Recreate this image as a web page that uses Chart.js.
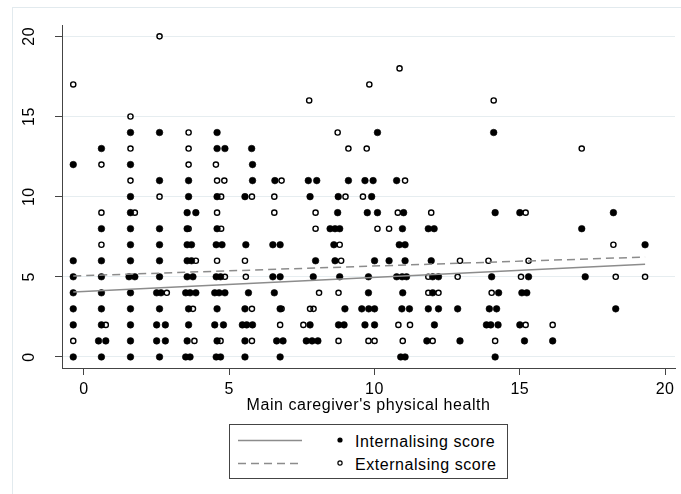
<!DOCTYPE html>
<html>
<head>
<meta charset="utf-8">
<script src="https://cdn.jsdelivr.net/npm/chart.js@4/dist/chart.umd.min.js"></script>
<style>
html,body{margin:0;padding:0;background:#fff;}
#wrap{position:relative;width:681px;height:494px;overflow:hidden;background:#fff;}
#frame{position:absolute;left:12px;top:7px;width:720px;height:520px;border-left:1px solid #e2eaee;border-top:1px solid #e2eaee;}
#c{position:absolute;left:0;top:0;}
#legend{position:absolute;left:0;top:0;}
</style>
</head>
<body>
<div id="wrap">
  <div id="frame"></div>
  <canvas id="c" width="681" height="494"></canvas>
  <svg id="legend" width="681" height="494" xmlns="http://www.w3.org/2000/svg"></svg>
</div>
<script>
// ---------- data ----------
const xTitle = "Main caregiver's physical health";
const seriesNames = ["Internalising score", "Externalsing score"];
const xTicks = [0, 5, 10, 15, 20];
const yTicks = [0, 5, 10, 15, 20];

// Internalising score (filled markers)
const intX = [
  -0.37,-0.37,-0.37,-0.37,-0.37,-0.37,-0.37,
  0.6,0.6,0.6,0.6,0.6,0.6,0.6,0.5,0.75,0.6,
  1.6,1.6,1.6,1.6,1.6,1.6,1.6,1.55,1.75,1.6,1.6,1.6,1.6,1.6,
  2.6,2.6,2.6,2.6,2.6,2.6,2.5,2.65,2.6,2.5,2.8,2.5,2.8,2.6,
  3.6,3.6,3.55,3.85,3.55,3.55,3.7,3.55,3.7,3.55,3.75,3.5,3.65,3.85,3.6,3.6,3.55,3.5,3.65,
  4.58,4.58,4.85,4.58,4.58,4.55,4.75,4.55,4.7,4.5,4.65,4.85,4.58,4.5,4.8,4.58,4.55,4.7,
  5.77,5.8,5.8,5.54,5.57,5.66,5.54,5.45,5.6,5.8,5.54,5.54,
  6.57,6.5,6.75,6.5,6.75,6.55,6.75,6.63,6.85,6.75,
  7.72,8.01,7.78,7.97,7.89,7.78,7.65,7.85,8.05,
  9.1,8.75,8.73,8.47,8.64,8.8,8.6,8.64,8.8,8.98,8.76,8.95,
  10.1,9.67,9.95,9.9,9.75,10.1,10.0,9.79,9.79,9.56,9.8,10.0,9.67,10.0,
  10.76,11.0,10.96,10.85,11.05,10.5,11.05,10.76,10.95,11.1,10.97,10.94,11.2,10.9,11.05,
  11.85,12.05,11.95,12.0,12.2,12.0,11.85,12.2,12.06,11.8,
  12.86,12.94,
  14.1,14.15,14.03,14.27,13.95,14.2,13.85,14.0,14.25,14.15,
  15.0,15.3,15.07,15.24,15.0,15.16,
  16.13,17.13,17.25,18.22,18.3,19.31
];
const intY = [
  12,6,5,4,3,2,0,
  13,8,6,5,4,3,2,1,1,0,
  14,12,10,9,8,7,6,5,5,4,3,2,1,0,
  14,11,8,7,6,5,4,4,3,2,2,1,1,0,
  11,10,9,9,8,7,7,6,6,5,5,4,4,4,3,2,1,0,0,
  14,13,13,10,8,7,7,5,5,4,4,4,3,2,2,1,0,0,
  13,12,11,10,7,4,3,2,2,2,1,0,
  11,7,7,5,5,4,3,1,1,0,
  11,11,10,6,5,2,1,1,1,
  11,10,9,8,8,8,7,6,5,3,2,2,
  14,11,11,10,9,9,6,5,4,3,3,3,2,2,
  11,9,8,7,7,6,6,5,5,5,4,3,3,0,0,
  8,8,6,5,5,4,3,3,2,1,
  3,1,
  14,9,5,4,3,3,2,2,2,0,
  9,5,4,4,2,1,
  1,8,5,9,3,7
];

// Externalsing score (hollow markers)
const extX = [
  -0.37,-0.37,
  0.6,0.6,0.6,0.75,
  1.6,1.6,1.6,1.75,
  2.6,2.6,2.85,
  3.6,3.6,3.6,3.6,3.85,3.75,3.8,
  4.54,4.58,4.83,4.72,4.58,4.72,4.58,4.85,4.7,
  5.78,5.54,5.57,5.78,5.78,
  6.8,6.55,6.55,6.8,6.75,
  7.75,7.97,7.97,8.09,7.78,7.9,7.55,
  8.73,9.1,9.0,8.8,8.85,8.76,8.76,
  9.82,9.73,9.6,10.1,10.5,9.79,10.0,
  10.86,11.05,10.8,10.82,11.22,10.97,
  11.95,11.85,11.85,12.2,12.0,
  12.94,12.86,
  14.1,13.92,14.03,14.15,
  15.2,15.3,15.04,15.2,
  16.13,17.13,18.22,18.3,19.31
];
const extY = [
  17,1,
  12,9,7,2,
  15,13,11,9,
  20,10,4,
  14,13,12,8,6,3,1,
  12,11,11,10,9,8,6,5,1,
  10,6,5,3,1,
  11,10,9,3,2,
  16,9,8,4,3,3,2,
  14,13,10,7,6,4,1,
  17,13,10,8,8,1,1,
  18,11,9,2,2,1,
  9,5,4,4,1,
  6,5,
  16,6,4,1,
  9,6,5,2,
  2,13,7,5,5
];

// fitted lines (end points)
const fitX = [-0.37, 19.31];
const fitInt = [4.05, 5.78];
const fitExt = [5.05, 6.23];

// ---------- chart ----------
const toPts = (xs, ys) => xs.map((x, i) => ({x: x, y: ys[i]}));
const FONT = "'Liberation Sans', Arial, Helvetica, sans-serif";
Chart.defaults.font.family = FONT;
Chart.defaults.color = '#000';

const spacing = {
  id: 'spacing',
  beforeLayout(chart) { try { chart.ctx.letterSpacing = '0.55px'; } catch (e) {} },
  beforeDraw(chart) { try { chart.ctx.letterSpacing = '0.55px'; } catch (e) {} }
};

new Chart(document.getElementById('c'), {
  type: 'scatter',
  data: {
    datasets: [
      {label: 'fit1', data: toPts(fitX, fitInt), showLine: true, borderColor: '#8c8c8c', borderWidth: 1.5, pointRadius: 0, order: 1},
      {label: 'fit2', data: toPts(fitX, fitExt), showLine: true, borderColor: '#8c8c8c', borderWidth: 1.5, borderDash: [8, 5], pointRadius: 0, order: 1},
      {label: seriesNames[0], data: toPts(intX, intY), pointRadius: 3.3, pointBackgroundColor: '#000', pointBorderColor: '#000', pointBorderWidth: 0.6, order: 3},
      {label: seriesNames[1], data: toPts(extX, extY), pointRadius: 2.6, pointBackgroundColor: 'rgba(0,0,0,0)', pointBorderColor: '#000', pointBorderWidth: 1.4, order: 2}
    ]
  },
  options: {
    responsive: false,
    animation: false,
    events: [],
    layout: {padding: {top: 25, right: 6, left: 0, bottom: 0}},
    plugins: {legend: {display: false}, tooltip: {enabled: false}},
    scales: {
      x: {
        type: 'linear', min: -0.757, max: 20.34,
        afterBuildTicks: s => { s.ticks = xTicks.map(v => ({value: v})); },
        afterFit: s => { s.height = 126; },
        grid: {display: true, drawOnChartArea: false, drawTicks: true, tickLength: 7, tickColor: '#444', color: '#444'},
        border: {display: true, color: '#444', width: 1},
        ticks: {padding: 5, color: '#000', font: {size: 16}, minRotation: 0, maxRotation: 0, autoSkip: false},
        title: {display: true, text: xTitle, color: '#000', font: {size: 16}, padding: {top: 0, bottom: 79}}
      },
      y: {
        type: 'linear', min: -0.69, max: 20.67,
        afterBuildTicks: s => { s.ticks = yTicks.map(v => ({value: v})); },
        afterFit: s => { s.width = 62; },
        grid: {display: true, color: '#e6edf0', tickColor: '#444', tickLength: 7, lineWidth: 1},
        border: {display: true, color: '#444', width: 1},
        ticks: {padding: 16, color: '#000', font: {size: 16}, minRotation: 90, maxRotation: 90, crossAlign: 'center', autoSkip: false}
      }
    }
  },
  plugins: [spacing]
});

// ---------- legend (SVG, real text) ----------
(function () {
  const svg = document.getElementById('legend');
  const NS = 'http://www.w3.org/2000/svg';
  const mk = (tag, attrs, txt) => {
    const el = document.createElementNS(NS, tag);
    for (const k in attrs) el.setAttribute(k, attrs[k]);
    if (txt) el.textContent = txt;
    svg.appendChild(el);
    return el;
  };
  mk('rect', {x: 229.5, y: 424.5, width: 278, height: 54, fill: '#fff', stroke: '#444', 'stroke-width': 1});
  const rows = [440.5, 463.5];
  mk('line', {x1: 238, y1: rows[0], x2: 302, y2: rows[0], stroke: '#8c8c8c', 'stroke-width': 1.5});
  mk('line', {x1: 238, y1: rows[1], x2: 302, y2: rows[1], stroke: '#8c8c8c', 'stroke-width': 1.5, 'stroke-dasharray': '8 5'});
  mk('circle', {cx: 340, cy: rows[0] - 0.5, r: 2.6, fill: '#000'});
  mk('circle', {cx: 340, cy: rows[1] - 0.5, r: 2.1, fill: 'none', stroke: '#000', 'stroke-width': 1.2});
  seriesNames.forEach((name, i) => {
    mk('text', {x: 355, y: rows[i] + 6.3, 'font-family': FONT, 'font-size': 16, 'letter-spacing': '0.55', fill: '#000'}, name);
  });
})();
</script>
</body>
</html>
